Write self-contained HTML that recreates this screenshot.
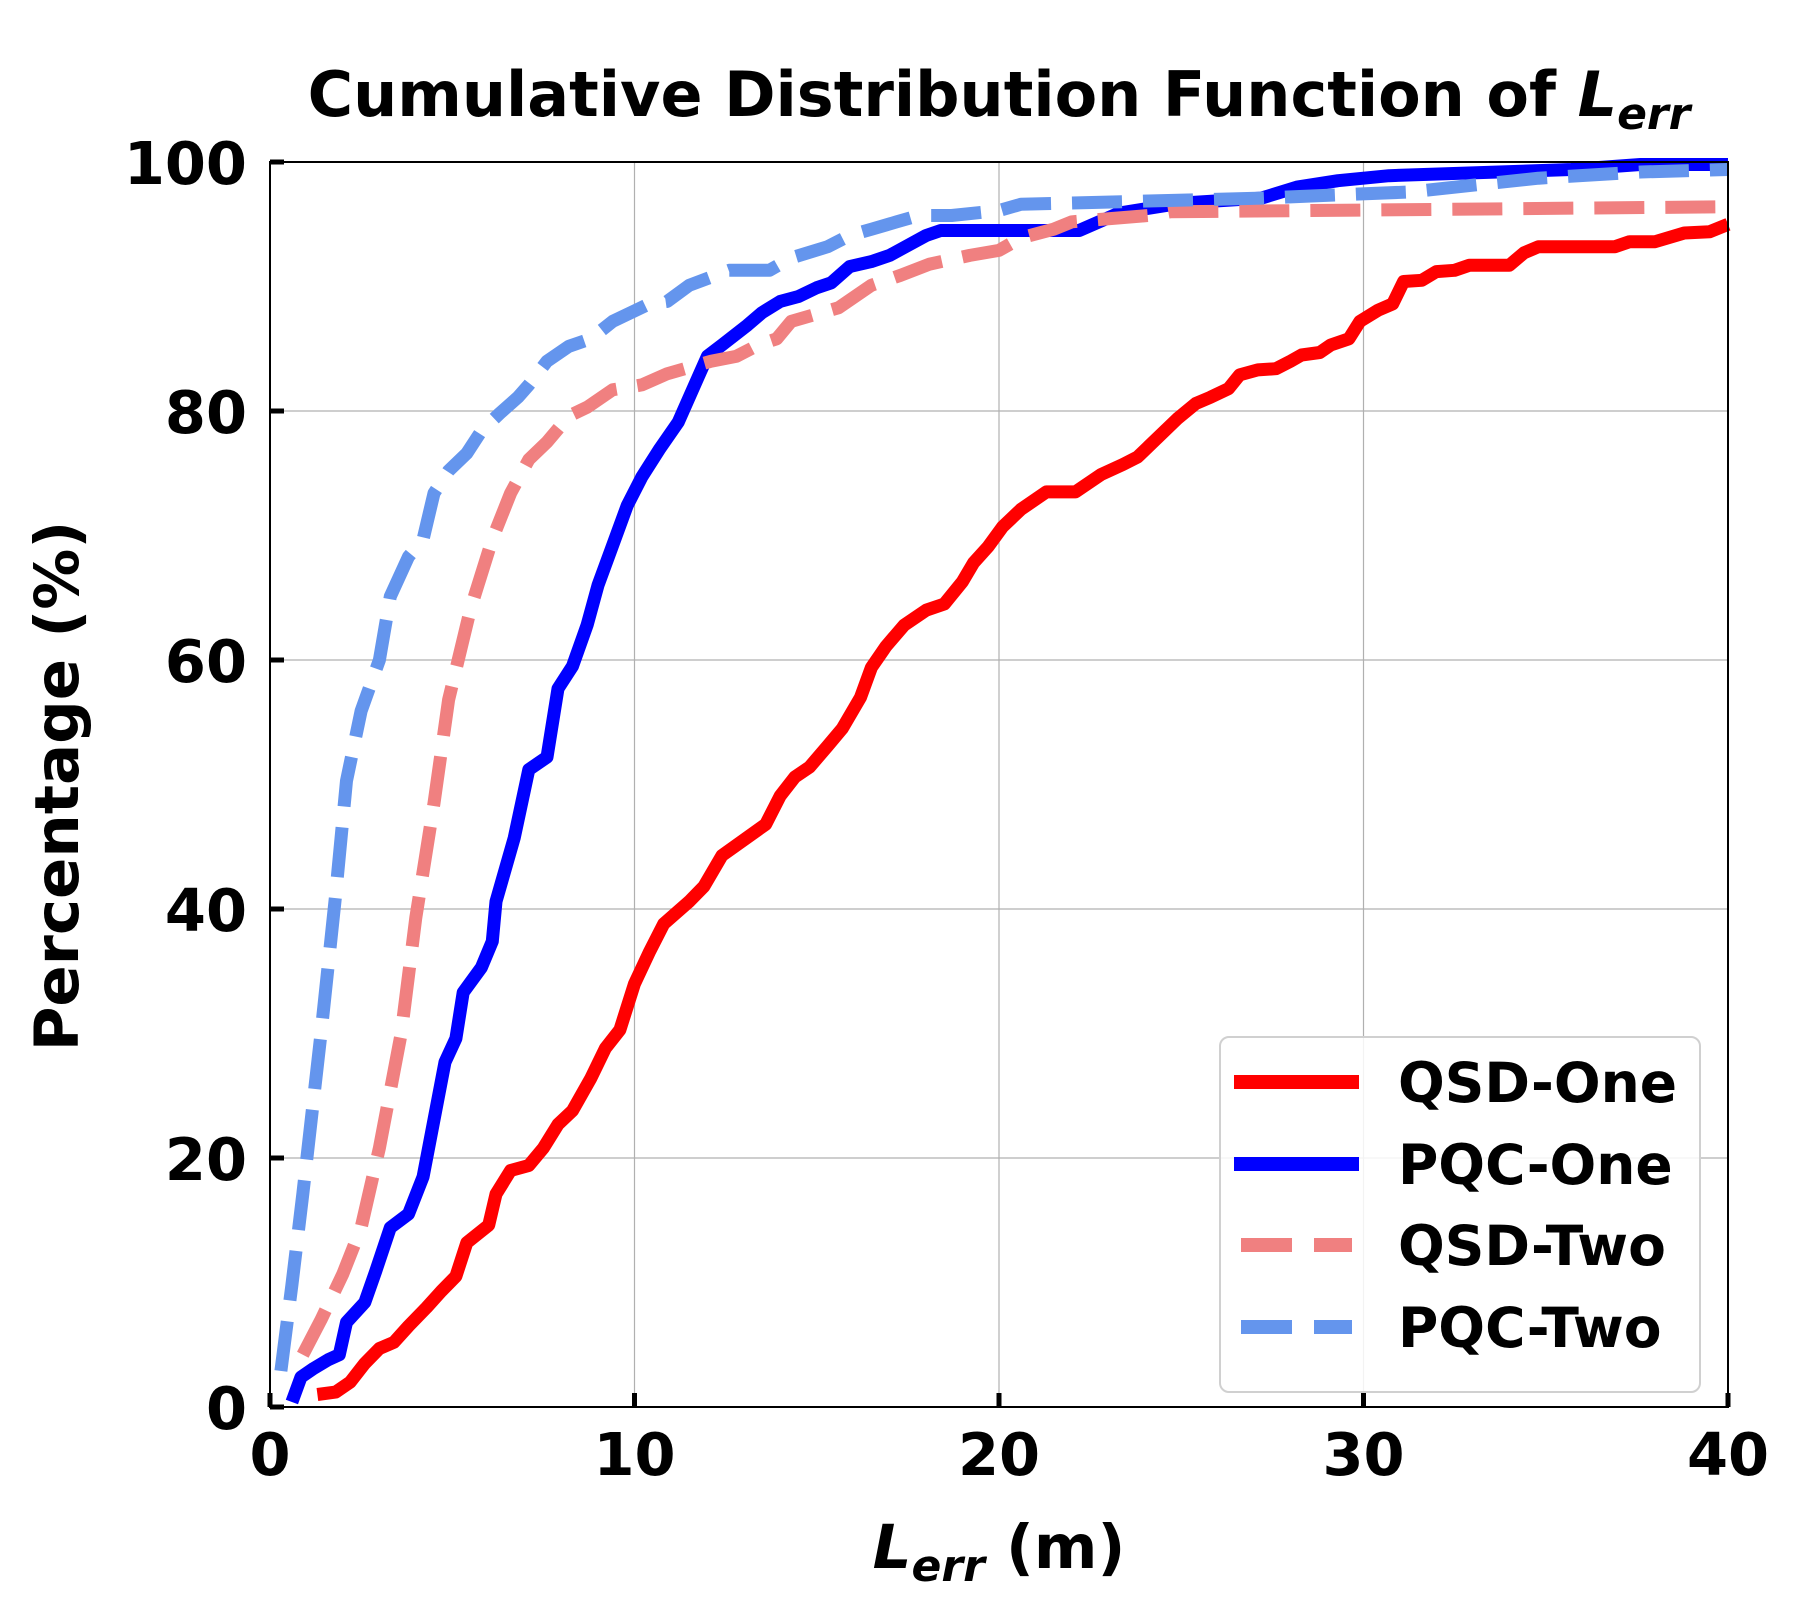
<!DOCTYPE html>
<html><head><meta charset="utf-8"><style>
html,body{margin:0;padding:0;background:#fff;}
svg{display:block;font-family:"DejaVu Sans","Liberation Sans",sans-serif;font-weight:bold;}
</style></head><body>
<svg id="chart" width="1800" height="1600" viewBox="0 0 1800 1600">
<text x="999" y="116" font-size="62" text-anchor="middle">Cumulative Distribution Function of <tspan font-style="italic">L</tspan><tspan font-style="italic" font-size="44" dy="13">err</tspan></text>
<g id="grid"></g>
<g id="series"></g>
<rect x="270" y="162" width="1458" height="1245" fill="none" stroke="#000" stroke-width="2"/>
<g id="ticks"></g>
<text transform="translate(78,786) rotate(-90)" font-size="61" text-anchor="middle">Percentage (%)</text>
<text x="999" y="1568" font-size="61" text-anchor="middle"><tspan font-style="italic">L</tspan><tspan font-style="italic" font-size="44" dy="13">err</tspan><tspan dy="-13"> (m)</tspan></text>
<g>
<rect x="1220" y="1037" width="480" height="355" rx="9" fill="#fff" fill-opacity="0.85" stroke="#d0d0d0" stroke-width="2"/>
<line x1="1234" y1="1082" x2="1359" y2="1082" stroke="#ff0000" stroke-width="14"/>
<text x="1398" y="1102" font-size="55">QSD-One</text>
<line x1="1234" y1="1164" x2="1359" y2="1164" stroke="#0000ff" stroke-width="14"/>
<text x="1398" y="1184" font-size="55">PQC-One</text>
<line x1="1241" y1="1245" x2="1352" y2="1245" stroke="#f08080" stroke-width="14" stroke-dasharray="51,22"/>
<text x="1398" y="1265" font-size="55">QSD-Two</text>
<line x1="1241" y1="1327" x2="1352" y2="1327" stroke="#6495ed" stroke-width="14" stroke-dasharray="51,22"/>
<text x="1398" y="1347" font-size="55">PQC-Two</text>
</g>
</svg>
<script>
const xTicks=[0,10,20,30,40];
const yTicks=[0,20,40,60,80,100];
const qsdOneX=[1.3,1.8,2.2,2.6,3,3.4,3.8,4.3,4.7,5.1,5.4,6,6.2,6.6,7.1,7.5,7.9,8.3,8.8,9.2,9.6,10,10.4,10.8,11.5,11.9,12.4,13.6,14,14.4,14.8,15.3,15.7,16.2,16.5,16.9,17.4,18,18.5,19,19.3,19.7,20.1,20.6,21.3,22.1,22.8,23.4,23.8,24.9,25.4,25.8,26.3,26.6,27.1,27.6,28,28.3,28.8,29.1,29.6,29.9,30.4,30.8,31.1,31.6,32,32.5,32.9,34,34.4,34.8,36.9,37.3,38,38.8,39.5,40];
const qsdOneY=[1,1.2,2,3.5,4.7,5.2,6.5,8,9.3,10.5,13.2,14.6,17.1,19,19.4,20.8,22.7,23.8,26.4,28.8,30.3,34,36.5,38.8,40.6,41.8,44.3,46.8,49.1,50.6,51.4,53.1,54.5,57,59.4,61.1,62.8,64,64.5,66.3,67.8,69.1,70.7,72.1,73.5,73.5,74.9,75.7,76.3,79.4,80.6,81.1,81.8,82.9,83.3,83.4,84,84.5,84.7,85.3,85.8,87.2,88.1,88.6,90.4,90.5,91.2,91.3,91.7,91.7,92.7,93.2,93.2,93.6,93.6,94.3,94.4,95];
const pqcOneX=[0.6,0.85,1.2,1.6,1.9,2.1,2.6,2.9,3.3,3.8,4.2,4.8,5.1,5.3,5.8,6.1,6.2,6.7,7.1,7.6,7.9,8.3,8.7,9,9.4,9.8,10.2,10.7,11.2,12,12.4,13.1,13.5,14,14.5,15,15.4,15.9,16.5,17,17.5,18,18.4,22.2,23.3,25,27.2,28.2,29.3,30.7,35.7,37.6,40];
const pqcOneY=[0.4,2.4,3.1,3.8,4.2,6.8,8.4,10.9,14.4,15.5,18.5,27.7,29.6,33.3,35.3,37.4,40.6,45.7,51.2,52.2,57.7,59.5,62.8,66,69.2,72.4,74.7,77,79.1,84.4,85.3,86.9,87.9,88.8,89.2,89.9,90.3,91.6,92,92.5,93.3,94.1,94.5,94.5,95.9,96.7,97.1,98,98.5,98.9,99.4,99.8,99.8];
const qsdTwoX=[0.9,1.4,2,2.5,3,3.6,4,4.5,4.9,5.5,6.1,6.6,7.1,7.6,8.2,8.7,9.4,10.2,10.9,12.1,12.8,13.4,13.9,14.3,15.6,16.5,17.3,18.1,19.2,20,20.6,21.5,22,24.1,24.7,40];
const qsdTwoY=[4.2,7,10.7,14.4,20.8,30,39.3,48.5,56.8,64.1,69.7,73.4,76.1,77.5,79.6,80.3,81.7,82.1,83,84,84.4,85.3,85.8,87.2,88.3,90.1,90.9,91.8,92.5,92.9,93.9,94.6,95.2,95.7,96,96.4];
const pqcTwoX=[0.3,0.6,0.9,1.4,1.8,2.1,2.5,3,3.3,3.8,4.2,4.5,4.9,5.4,5.8,6.3,6.8,7.1,7.6,8.2,8.8,9.4,10.4,10.9,11.5,12.6,13.7,14.3,15.3,15.9,16.5,17.2,17.8,18.7,20,20.6,27.2,31.3,33.5,34.8,37.6,40];
const pqcTwoY=[2.9,9.8,17.1,30,41.1,50.3,55.9,60,65.1,68.3,69.7,73.4,75.2,76.6,78.4,79.8,81.1,82.1,84,85.2,85.8,87.2,88.6,88.8,90.1,91.3,91.3,92.3,93.2,94.1,94.6,95.2,95.7,95.7,96.1,96.6,97.1,97.6,98.3,98.7,99.2,99.4];

const NS="http://www.w3.org/2000/svg";
const L=270,R=1728,T=162,B=1407;
function sx(v){return L+(v-0)/(40-0)*(R-L);}
function sy(v){return B-(v-0)/(100-0)*(B-T);}
const grid=document.getElementById('grid'),ticks=document.getElementById('ticks'),ser=document.getElementById('series');
function mk(tag,attrs,parent){const e=document.createElementNS(NS,tag);for(const k in attrs)e.setAttribute(k,attrs[k]);parent.appendChild(e);return e;}
xTicks.forEach(v=>{
  const g=mk('line',{x1:sx(v),x2:sx(v),y1:T,y2:B,stroke:'#b0b0b0','stroke-width':1.2},grid);
  
  
  const t=mk('line',{x1:sx(v),x2:sx(v),y1:B,y2:B-14,stroke:'#000','stroke-width':5},ticks);
  
  
  const l=mk('text',{x:sx(v),y:1475,'font-size':59,'text-anchor':'middle'},ticks);
  l.textContent=v;
  
  
});
yTicks.forEach(v=>{
  const g=mk('line',{x1:L,x2:R,y1:sy(v),y2:sy(v),stroke:'#b0b0b0','stroke-width':1.2},grid);
  
  
  const t=mk('line',{x1:L,x2:L+14,y1:sy(v),y2:sy(v),stroke:'#000','stroke-width':5},ticks);
  
  
  const l=mk('text',{x:247,y:sy(v)+22,'font-size':59,'text-anchor':'end'},ticks);
  l.textContent=v;
  
  
});
function line(xs,ys,color,dash,name){
  const d=xs.map((x,i)=>(i?'L':'M')+sx(x).toFixed(1)+','+sy(ys[i]).toFixed(1)).join(' ');
  const p=mk('path',{d:d,fill:'none',stroke:color,'stroke-width':13,'stroke-linejoin':'round'},ser);
  if(dash)p.setAttribute('stroke-dasharray','50,21');
  
  
}
line(qsdOneX,qsdOneY,'#ff0000',false,'line-qsd-one');
line(pqcOneX,pqcOneY,'#0000ff',false,'line-pqc-one');
line(qsdTwoX,qsdTwoY,'#f08080',true,'line-qsd-two');
line(pqcTwoX,pqcTwoY,'#6495ed',true,'line-pqc-two');
</script>
</body></html>
